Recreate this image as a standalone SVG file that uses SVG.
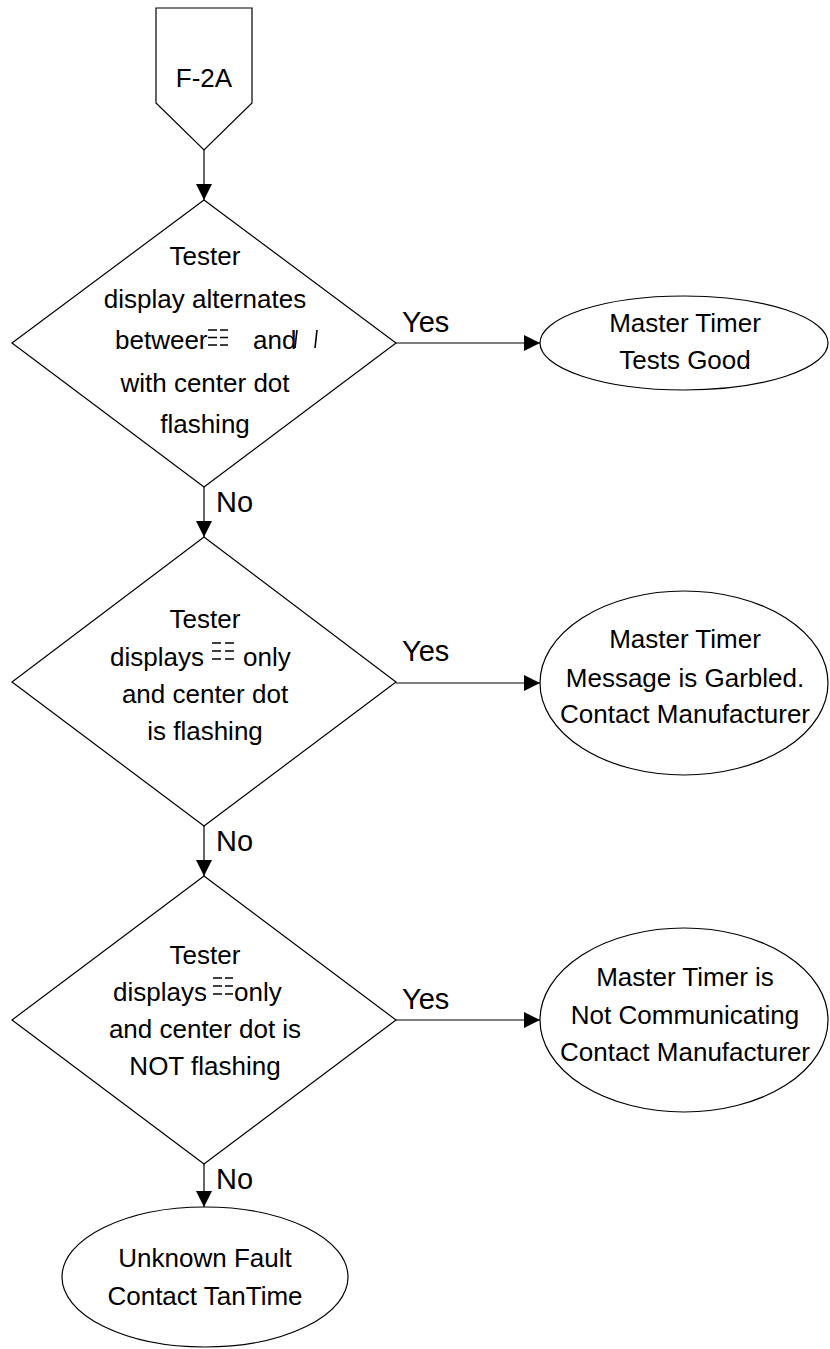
<svg xmlns="http://www.w3.org/2000/svg" width="830" height="1349" viewBox="0 0 830 1349">
<style>
.s{fill:#fff;stroke:#000;stroke-width:1.2}
.t{font-family:"Liberation Sans",Arial,sans-serif;font-size:26px;fill:#000}
.m{text-anchor:middle}
.l{font-family:"Liberation Sans",Arial,sans-serif;font-size:29px;fill:#000}
.c{stroke:#000;stroke-width:1.2;fill:none}
.g{stroke:#000;stroke-width:1.6;fill:none}
</style>
<defs>
<marker id="ah" markerUnits="userSpaceOnUse" markerWidth="16" markerHeight="16" refX="16" refY="8" orient="auto">
<path d="M0,0 L16,8 L0,16 z" fill="#000"/>
</marker>
</defs>
<g id="connectors">
<line class="c" x1="204" y1="150" x2="204" y2="200" marker-end="url(#ah)"/>
<line class="c" x1="204" y1="487" x2="204" y2="537" marker-end="url(#ah)"/>
<line class="c" x1="204" y1="826" x2="204" y2="876" marker-end="url(#ah)"/>
<line class="c" x1="204" y1="1164" x2="204" y2="1207" marker-end="url(#ah)"/>
<line class="c" x1="396" y1="343" x2="540" y2="343" marker-end="url(#ah)"/>
<line class="c" x1="396" y1="683" x2="540" y2="683" marker-end="url(#ah)"/>
<line class="c" x1="396" y1="1020" x2="540" y2="1020" marker-end="url(#ah)"/>
<text class="l" x="402" y="332">Yes</text>
<text class="l" x="402" y="661">Yes</text>
<text class="l" x="402" y="1009">Yes</text>
<text class="l" x="216" y="512">No</text>
<text class="l" x="216" y="851">No</text>
<text class="l" x="216" y="1189">No</text>
</g>
<g id="start">
<path class="s" d="M156,8 L252,8 L252,103 L204,150 L156,103 Z"/>
<text class="t m" x="204" y="87">F-2A</text>
</g>
<g id="decision1">
<path class="s" d="M204,200 L396,343 L204,487 L12,343 Z"/>
<text class="t m" x="205" y="265">Tester</text>
<text class="t m" x="205" y="308">display alternates</text>
<text class="t" x="115" y="349">betweer</text>
<g class="g">
<path d="M208,330 h9 M208,337.5 h9 M208,345 h9 M220,330 h8 M220,337.5 h8 M220,345 h8"/>
</g>
<text class="t" x="253" y="349">and</text>
<path class="g" d="M297,330 L295,348 M317,330 L315,348"/>
<text class="t m" x="205" y="392">with center dot</text>
<text class="t m" x="205" y="433">flashing</text>
</g>
<g id="decision2">
<path class="s" d="M204,537 L396,682 L204,826 L12,682 Z"/>
<text class="t m" x="205" y="628">Tester</text>
<text class="t" x="110" y="666">displays</text>
<g class="g">
<path d="M212,643 h9 M212,651 h9 M212,659 h9 M225,643 h9 M225,651 h9 M225,659 h9"/>
</g>
<text class="t" x="243" y="666">only</text>
<text class="t m" x="205" y="703">and center dot</text>
<text class="t m" x="205" y="740">is flashing</text>
</g>
<g id="decision3">
<path class="s" d="M204,876 L396,1020 L204,1164 L12,1020 Z"/>
<text class="t m" x="205" y="964">Tester</text>
<text class="t" x="113" y="1001">displays</text>
<g class="g">
<path d="M213,978 h9 M213,986 h9 M213,994 h9 M225,978 h8 M225,986 h8 M225,994 h8"/>
</g>
<text class="t" x="234" y="1001">only</text>
<text class="t m" x="205" y="1038">and center dot is</text>
<text class="t m" x="205" y="1075">NOT flashing</text>
</g>
<g id="result1">
<ellipse class="s" cx="684" cy="343" rx="144" ry="47"/>
<text class="t m" x="685" y="332">Master Timer</text>
<text class="t m" x="685" y="369">Tests Good</text>
</g>
<g id="result2">
<ellipse class="s" cx="684" cy="683" rx="144" ry="92"/>
<text class="t m" x="685" y="648">Master Timer</text>
<text class="t m" x="685" y="687">Message is Garbled.</text>
<text class="t m" x="685" y="723">Contact Manufacturer</text>
</g>
<g id="result3">
<ellipse class="s" cx="684" cy="1020" rx="144" ry="92"/>
<text class="t m" x="685" y="986">Master Timer is</text>
<text class="t m" x="685" y="1024">Not Communicating</text>
<text class="t m" x="685" y="1061">Contact Manufacturer</text>
</g>
<g id="result4">
<ellipse class="s" cx="205" cy="1277" rx="143" ry="70"/>
<text class="t m" x="205" y="1267">Unknown Fault</text>
<text class="t m" x="205" y="1305">Contact TanTime</text>
</g>
</svg>
